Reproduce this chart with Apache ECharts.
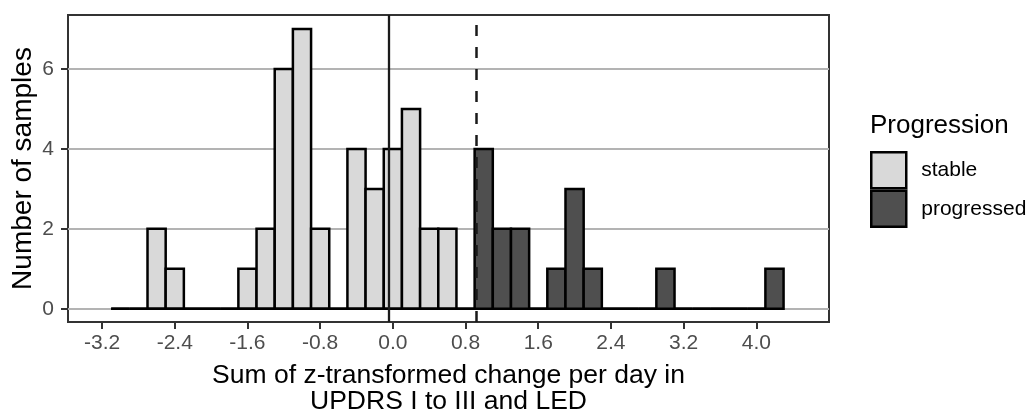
<!DOCTYPE html>
<html>
<head>
<meta charset="utf-8">
<script src="https://cdn.jsdelivr.net/npm/echarts@6/dist/echarts.min.js"></script>
<style>
  html, body { margin: 0; padding: 0; background: #fff; }
  #chart { width: 1030px; height: 416px; }
</style>
</head>
<body>
<div id="chart"></div>
<script>
// Histogram bins (centres, width 0.2) of the summed z-score change per day
const binCenters = [
  -3.0, -2.8, -2.6, -2.4, -2.2, -2.0, -1.8, -1.6, -1.4, -1.2,
  -1.0, -0.8, -0.6, -0.4, -0.2, 0.0, 0.2, 0.4, 0.6, 0.8,
  1.0, 1.2, 1.4, 1.6, 1.8, 2.0, 2.2, 2.4, 2.6, 2.8,
  3.0, 3.2, 3.4, 3.6, 3.8, 4.0, 4.2
];
const binWidth = 0.2;

// Counts per bin for each progression group
const stableCounts = [
  0, 0, 2, 1, 0, 0, 0, 1, 2, 6,
  7, 2, 0, 4, 3, 4, 5, 2, 2, 0,
  0, 0, 0, 0, 0, 0, 0, 0, 0, 0,
  0, 0, 0, 0, 0, 0, 0
];
const progressedCounts = [
  0, 0, 0, 0, 0, 0, 0, 0, 0, 0,
  0, 0, 0, 0, 0, 0, 0, 0, 0, 0,
  4, 2, 2, 0, 1, 3, 1, 0, 0, 0,
  1, 0, 0, 0, 0, 0, 1
];

// Axis tick labels
const xTicks = [-3.2, -2.4, -1.6, -0.8, 0.0, 0.8, 1.6, 2.4, 3.2, 4.0];
const yTicks = [0, 2, 4, 6];

// Reference lines: centre (solid) and progression threshold (dashed)
const centreLine = -0.035;
const thresholdLine = 0.92;

const groups = ['stable', 'progressed'];
const groupColors = ['#d9d9d9', '#4f4f4f'];

const FONT = '"Liberation Sans", Arial, Helvetica, sans-serif';

function renderBar(params, api) {
  const x = api.value(0);
  const n = api.value(1);
  const topLeft = api.coord([x - binWidth / 2, n]);
  const bottomRight = api.coord([x + binWidth / 2, 0]);
  return {
    type: 'rect',
    shape: {
      x: topLeft[0],
      y: topLeft[1],
      width: bottomRight[0] - topLeft[0],
      height: bottomRight[1] - topLeft[1]
    },
    style: api.style({ stroke: '#000', lineWidth: 2.5 })
  };
}

function pairs(counts) {
  return binCenters.map((c, i) => [c, counts[i]]);
}

const chart = echarts.init(document.getElementById('chart'), null, { renderer: 'canvas' });

chart.setOption({
  animation: false,
  backgroundColor: '#fff',
  textStyle: { fontFamily: FONT },
  grid: {
    left: 68, right: 201, top: 15, bottom: 94,
    outerBoundsMode: 'none',
    containLabel: false,
    show: true, borderColor: '#333', borderWidth: 2, backgroundColor: 'transparent'
  },
  title: {
    text: 'Progression',
    left: 870, top: 113, padding: 0,
    textStyle: { fontFamily: FONT, fontSize: 26, fontWeight: 'normal', color: '#000', lineHeight: 26 }
  },
  legend: {
    data: groups,
    orient: 'vertical',
    left: 870, top: 151, padding: 0,
    itemWidth: 35, itemHeight: 36, itemGap: 0,
    icon: 'rect',
    itemStyle: { borderColor: '#000', borderWidth: 2.5 },
    textStyle: { fontFamily: FONT, fontSize: 21, color: '#000', padding: [0, 0, 0, 10] },
    selectedMode: false
  },
  xAxis: {
    type: 'value',
    min: -3.575, max: 4.8,
    name: 'Sum of z-transformed change per day in\nUPDRS I to III and LED',
    nameLocation: 'middle',
    nameGap: 41,
    nameTextStyle: { fontFamily: FONT, fontSize: 26.5, color: '#000', lineHeight: 26 },
    axisLine: { show: false, onZero: false },
    axisTick: { show: true, length: 7, customValues: xTicks, lineStyle: { color: '#333', width: 2 } },
    axisLabel: {
      customValues: xTicks, margin: 10.5,
      fontFamily: FONT, fontSize: 21, lineHeight: 21, color: '#4d4d4d',
      formatter: v => v.toFixed(1)
    },
    splitLine: { show: false }
  },
  yAxis: {
    type: 'value',
    min: -0.33, max: 7.35,
    name: 'Number of samples',
    nameLocation: 'middle',
    nameGap: 31,
    nameMoveOverlap: false,
    nameRotate: 90,
    nameTextStyle: { fontFamily: FONT, fontSize: 28, color: '#000', lineHeight: 28 },
    axisLine: { show: false, onZero: false },
    axisTick: { show: true, length: 7, customValues: yTicks, lineStyle: { color: '#333', width: 2 } },
    axisLabel: {
      customValues: yTicks, margin: 14,
      fontFamily: FONT, fontSize: 21, color: '#4d4d4d'
    },
    splitLine: { show: true, lineStyle: { color: '#b3b3b3', width: 2 } }
  },
  series: [
    {
      name: groups[0],
      type: 'custom',
      renderItem: renderBar,
      itemStyle: { color: groupColors[0], borderColor: '#000', borderWidth: 2.5 },
      encode: { x: 0, y: 1 },
      data: pairs(stableCounts),
      z: 2
    },
    {
      name: groups[1],
      type: 'custom',
      renderItem: renderBar,
      itemStyle: { color: groupColors[1], borderColor: '#000', borderWidth: 2.5 },
      encode: { x: 0, y: 1 },
      data: pairs(progressedCounts),
      z: 2,
      markLine: {
        silent: true,
        symbol: ['none', 'none'],
        label: { show: false },
        animation: false,
        data: [
          { xAxis: centreLine, lineStyle: { type: 'solid', color: '#1a1a1a', width: 2.3 } },
          { xAxis: thresholdLine, lineStyle: { type: [11, 11], color: '#1a1a1a', width: 2.5 } }
        ]
      }
    }
  ]
});
</script>
</body>
</html>
